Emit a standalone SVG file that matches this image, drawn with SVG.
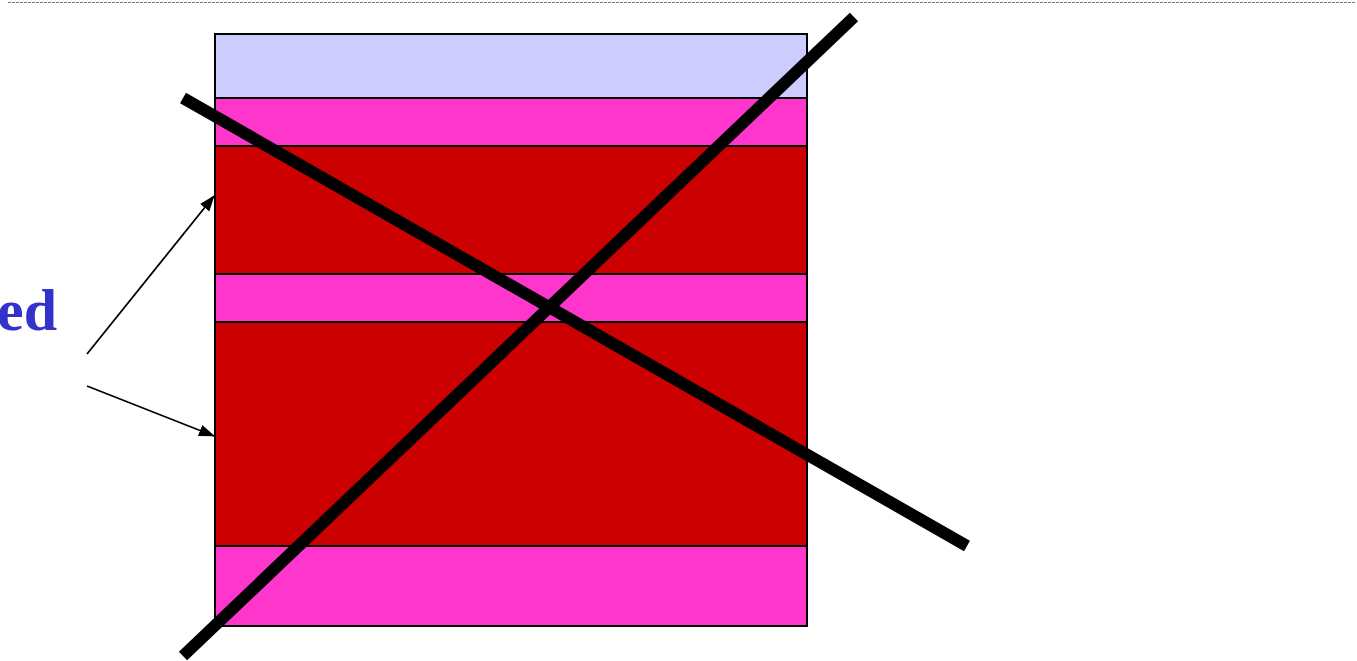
<svg xmlns="http://www.w3.org/2000/svg" width="1357" height="661" viewBox="0 0 1357 661">
<style>
.layer{stroke:#000;stroke-width:2}
.blue{fill:#CCCCFF}
.pink{fill:#FF36CC}
.red{fill:#CC0000}
.cross{stroke:#000;stroke-width:12;fill:none}
.conn{stroke:#000;stroke-width:1.8;fill:none;marker-end:url(#ah)}
.lbl{font-family:"Liberation Serif",serif;font-weight:bold;font-size:60px;fill:#3333CC}
</style>
<defs>
<marker id="ah" markerWidth="16" markerHeight="12" refX="15" refY="6" orient="auto" markerUnits="userSpaceOnUse" viewBox="0 0 16 12">
<path d="M0,0 L16,6 L0,12 Z" fill="#000"/>
</marker>
</defs>
<line x1="8" y1="2.5" x2="1356" y2="2.5" stroke="#777" stroke-width="1" stroke-dasharray="3,1"/>
<g id="stack">
<rect id="layer1" class="layer blue" x="215" y="34" width="592" height="64"/>
<rect id="layer2" class="layer pink" x="215" y="98" width="592" height="48"/>
<rect id="layer3" class="layer red" x="215" y="146" width="592" height="128"/>
<rect id="layer4" class="layer pink" x="215" y="274" width="592" height="48"/>
<rect id="layer5" class="layer red" x="215" y="322" width="592" height="224"/>
<rect id="layer6" class="layer pink" x="215" y="546" width="592" height="80"/>
</g>
<g id="label">
<text class="lbl" x="57" y="330" text-anchor="end">ed</text>
</g>
<g id="connectors">
<line class="conn" x1="87" y1="354" x2="214" y2="196"/>
<line class="conn" x1="87" y1="386" x2="214" y2="436"/>
</g>
<g id="cross">
<line class="cross" x1="183" y1="98" x2="967" y2="546"/>
<line class="cross" x1="854" y1="17" x2="183" y2="656"/>
</g>
</svg>
